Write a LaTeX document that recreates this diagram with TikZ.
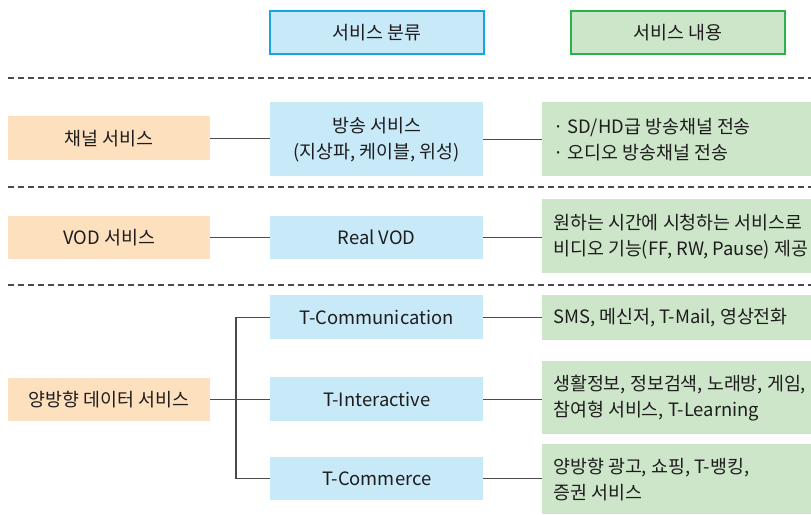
\documentclass[tikz,border=0pt]{standalone}
\usepackage{fontspec}
\setmainfont{Noto Sans CJK KR}
\definecolor{orangeF}{HTML}{FDE0BE}
\definecolor{blueF}{HTML}{C8E9F8}
\definecolor{greenF}{HTML}{CDE6CA}
\definecolor{headBlue}{HTML}{1AA3DF}
\definecolor{headGreen}{HTML}{2BB24C}
\definecolor{lineC}{HTML}{4A4A4A}
\definecolor{txt}{HTML}{1E1C1D}
\begin{document}
\begin{tikzpicture}[x=1pt,y=-1pt,
  font=\fontsize{18.4}{26}\selectfont, text=txt,
  box/.style={inner sep=0pt, anchor=north west, align=center},
  obox/.style={box, fill=orangeF, minimum width=202pt},
  bbox/.style={box, fill=blueF, minimum width=213pt},
  gbox/.style={box, fill=greenF, minimum width=269pt},
  gtext/.style={anchor=west, align=left, inner sep=0pt, xshift=11pt},
  head/.style={box, line width=1.5pt, minimum width=214pt, minimum height=43pt},
  conn/.style={draw=lineC, line width=1.4pt},
  sep/.style={draw=lineC, line width=1.6pt, dash pattern=on 6pt off 4pt}]
\useasboundingbox (0,0) rectangle (811,514);

% headers
\node[head, draw=headBlue, fill=blueF] (hb) at (269,10) {서비스 분류};
\node[head, draw=headGreen, fill=greenF] (hg) at (570,10) {서비스 내용};

% separators
\draw[sep] (8,78) -- (811,78);
\draw[sep] (8,187) -- (811,187);
\draw[sep] (8,285) -- (811,285);

% row 1
\node[obox, minimum height=44pt] (o1) at (8,116) {채널 서비스};
\node[bbox, minimum height=74pt] (b1) at (270,102) {방송 서비스\\(지상파, 케이블, 위성)};
\node[gbox, minimum height=74pt] (g1) at (542,102) {};
\node[gtext] (t1) at (g1.west) {· SD/HD급 방송채널 전송\\· 오디오 방송채널 전송};

% row 2
\node[obox, minimum height=43pt] (o2) at (8,216) {VOD 서비스};
\node[bbox, minimum height=43pt] (b2) at (270,216) {Real VOD};
\node[gbox, minimum height=74pt] (g2) at (542,199) {};
\node[gtext] (t2) at (g2.west) {원하는 시간에 시청하는 서비스로\\비디오 기능(FF, RW, Pause) 제공};

% row 3
\node[obox, minimum height=43pt] (o3) at (8,378) {양방향 데이터 서비스};
\node[bbox, minimum height=44pt] (b3) at (270,295) {T-Communication};
\node[bbox, minimum height=44pt] (b4) at (270,377) {T-Interactive};
\node[bbox, minimum height=43pt] (b5) at (270,457) {T-Commerce};
\node[gbox, minimum height=45pt] (g3) at (542,295) {};
\node[gtext] (t3) at (g3.west) {SMS, 메신저, T-Mail, 영상전화};
\node[gbox, minimum height=73pt] (g4) at (542,361) {};
\node[gtext] (t4) at (g4.west) {생활정보, 정보검색, 노래방, 게임,\\참여형 서비스, T-Learning};
\node[gbox, minimum height=70pt] (g5) at (542,444) {};
\node[gtext] (t5) at (g5.west) {양방향 광고, 쇼핑, T-뱅킹,\\증권 서비스};

% connectors
\coordinate (tr) at (236,0);
\draw[conn] (o1.east) -- (o1.east -| b1.west);
\draw[conn] (b1.east) -- (b1.east -| g1.west);
\draw[conn] (o2.east) -- (o2.east -| b2.west);
\draw[conn] (b2.east) -- (b2.east -| g2.west);
\draw[conn] (o3.east) -- (o3.east -| b4.west);
\draw[conn] (b3.west) -- (b3.west -| tr) -- (b5.west -| tr) -- (b5.west);
\draw[conn] (b3.east) -- (b3.east -| g3.west);
\draw[conn] (b4.east) -- (b4.east -| g4.west);
\draw[conn] (b5.east) -- (b5.east -| g5.west);
\end{tikzpicture}
\end{document}
